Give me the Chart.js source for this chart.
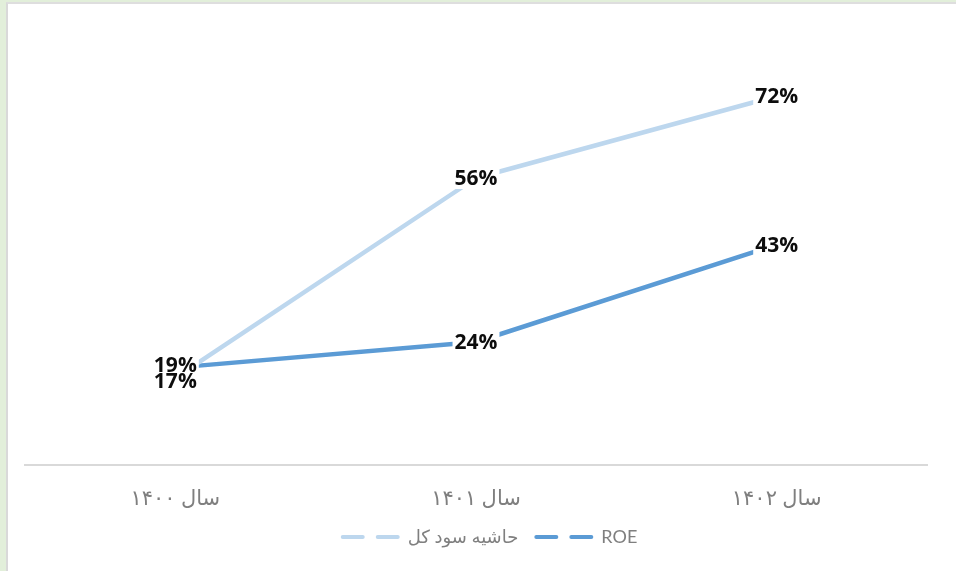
<!DOCTYPE html>
<html lang="fa">
<head>
<meta charset="utf-8">
<title>ROE</title>
<script src="https://cdn.jsdelivr.net/npm/chart.js@4.4.1/dist/chart.umd.min.js"></script>
<style>
  html, body { margin: 0; padding: 0; }
  body { width: 956px; height: 571px; background: #e2efda; overflow: hidden; position: relative; }
  #frame {
    position: absolute; left: 6px; top: 2px; width: 950px; height: 569px;
    background: #fff; border-left: 2px solid #d9d9d9; border-top: 2px solid #dedede;
  }
  canvas { display: block; }
</style>
</head>
<body>
<div id="frame"><canvas id="chart" width="948" height="567"></canvas></div>
<script>
// --- dados ---
const years = ['سال ۱۴۰۰', 'سال ۱۴۰۱', 'سال ۱۴۰۲'];
const marginName = 'حاشیه سود کل';
const marginValues = [17, 56, 72];
const roeName = 'ROE';
const roeValues = [19, 24, 43];

const labelFont = 'bold 21px "Open Sans", "DejaVu Sans", sans-serif';

// rótulos de valor com fundo branco (como no Excel)
const valueLabels = {
  id: 'valueLabels',
  afterDatasetsDraw(chart) {
    const ctx = chart.ctx;
    const items = [];
    chart.data.datasets.forEach((ds, di) => {
      const meta = chart.getDatasetMeta(di);
      meta.data.forEach((pt, i) => {
        items.push({ x: pt.x, y: pt.y, idx: i, text: ds.data[i] + '%' });
      });
    });
    // afasta rótulos sobrepostos no mesmo ponto
    items.forEach(a => {
      items.forEach(b => {
        if (a !== b && a.idx === b.idx && a.y > b.y && a.y - b.y < 16) {
          const d = (16 - (a.y - b.y)) / 2;
          a.y += d; b.y -= d;
        }
      });
    });
    ctx.save();
    ctx.font = labelFont;
    ctx.textAlign = 'center';
    ctx.textBaseline = 'middle';
    // primeiro os fundos, depois os textos
    items.forEach(it => {
      const w = ctx.measureText(it.text).width + 4;
      ctx.fillStyle = '#ffffff';
      ctx.fillRect(it.x - w / 2, it.y - 11, w, 22);
    });
    items.forEach(it => {
      ctx.fillStyle = '#0d0d0d';
      ctx.fillText(it.text, it.x, it.y + 1);
    });
    ctx.restore();
  }
};

// legenda um pouco à direita, como no original
const legendShift = {
  id: 'legendShift',
  afterLayout(chart) {
    chart.legend.left += 14;
    chart.legend.right += 14;
  }
};

new Chart(document.getElementById('chart'), {
  type: 'line',
  data: {
    labels: years,
    datasets: [
      {
        label: marginName,
        data: marginValues,
        borderColor: '#bdd7ee',
        backgroundColor: '#bdd7ee',
        borderWidth: 4.5,
        borderCapStyle: 'round',
        borderJoinStyle: 'round',
        pointRadius: 0,
        tension: 0
      },
      {
        label: roeName,
        data: roeValues,
        borderColor: '#5b9bd5',
        backgroundColor: '#5b9bd5',
        borderWidth: 4.5,
        borderCapStyle: 'round',
        borderJoinStyle: 'round',
        pointRadius: 0,
        tension: 0
      }
    ]
  },
  options: {
    responsive: false,
    animation: false,
    layout: { padding: { left: 17, right: 29, top: 51, bottom: 15 } },
    scales: {
      x: {
        offset: true,
        grid: { display: false, drawTicks: false },
        border: { display: true, color: '#d9d9d9', width: 2 },
        ticks: {
          color: '#7f7f7f',
          padding: 21,
          font: { family: 'Lato, "DejaVu Sans", sans-serif', size: 21 }
        },
        afterFit(scale) { scale.height = 45; }
      },
      y: { display: false, min: 0, max: 80 }
    },
    plugins: {
      tooltip: { enabled: false },
      legend: {
        position: 'bottom',
        labels: {
          color: '#7f7f7f',
          font: { family: 'Lato, "DejaVu Sans", sans-serif', size: 18 },
          usePointStyle: true,
          pointStyleWidth: 56,
          padding: 18,
          generateLabels(chart) {
            const items = Chart.defaults.plugins.legend.labels.generateLabels(chart);
            items.forEach(it => {
              it.pointStyle = 'line';
              it.lineDash = [20, 15];
              it.lineWidth = 4;
              it.lineCap = 'round';
            });
            return items;
          }
        }
      }
    }
  },
  plugins: [valueLabels, legendShift]
});
</script>
</body>
</html>
